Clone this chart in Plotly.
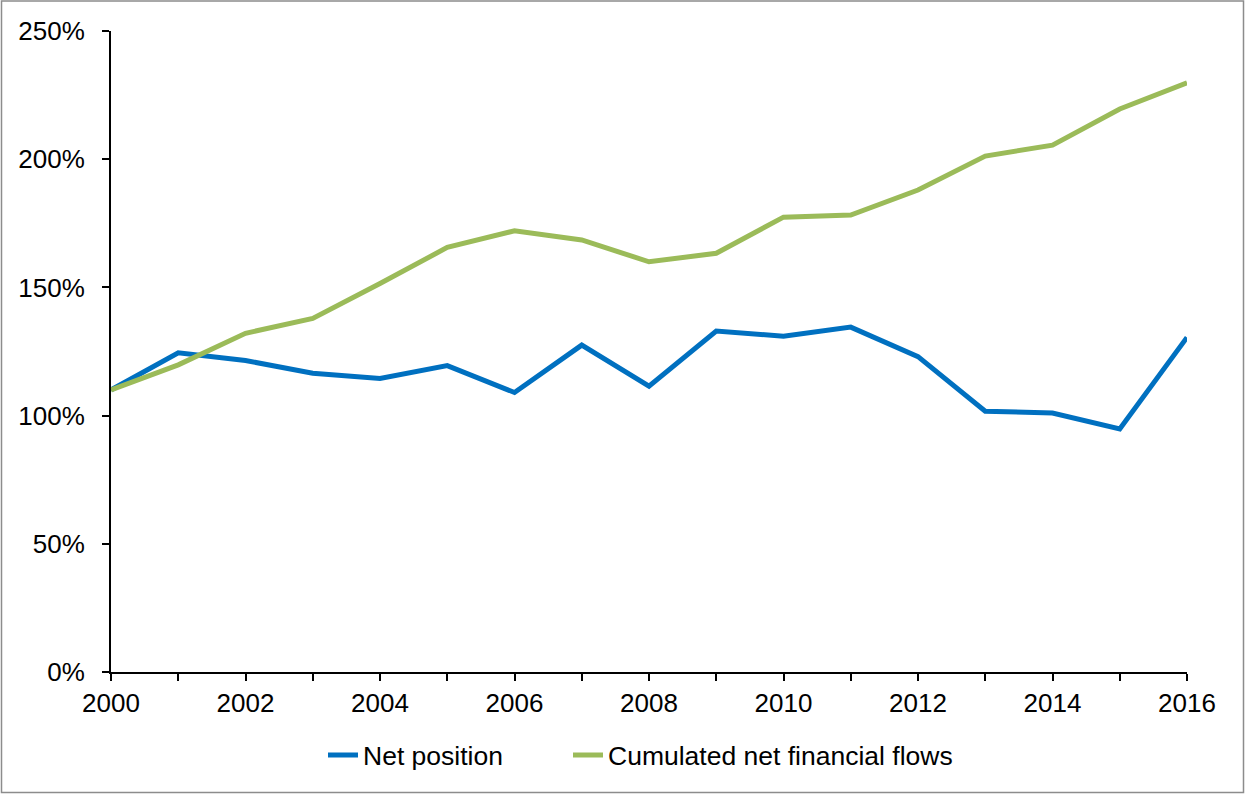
import plotly.graph_objects as go

years = list(range(2000, 2017))
net_position = [110, 124.5, 121.5, 116.5, 114.5, 119.5, 109, 127.5, 111.5,
                133, 131, 134.5, 123, 101.7, 101, 94.8, 130.5]
cumulated_flows = [110, 119.8, 132.1, 137.9, 151.5, 165.6, 172.1, 168.5, 160.0,
                   163.3, 177.4, 178.2, 188.0, 201.2, 205.5, 219.6, 229.8]
series_names = ["Net position", "Cumulated net financial flows"]
series_colors = ["#0070C0", "#9BBB59"]
y_ticks = [0, 50, 100, 150, 200, 250]
x_ticks = list(range(2000, 2017, 2))

W, H = 1245, 794
L, R, T, B = 111, 58, 31, 122
pw, ph = W - L - R, H - T - B

fig = go.Figure()
legend_refs = ["legend", "legend2"]
for name, vals, col, lg in zip(series_names, [net_position, cumulated_flows],
                               series_colors, legend_refs):
    fig.add_trace(go.Scatter(x=years, y=vals, mode="lines", name=name, legend=lg,
                             line=dict(color=col, width=5), hoverinfo="skip"))

font = dict(family="Liberation Sans, Arial, sans-serif", size=26, color="#000000")
leg_y = -0.0925
leg_common = dict(orientation="h", xanchor="left", y=leg_y, yanchor="top",
                  font=dict(size=26.5), bgcolor="rgba(0,0,0,0)")

fig.update_layout(
    width=W, height=H,
    margin=dict(l=L, r=R, t=T, b=B, pad=0),
    paper_bgcolor="white", plot_bgcolor="white",
    font=font,
    showlegend=True,
    legend=dict(x=(323 - L) / pw, **leg_common),
    legend2=dict(x=(568 - L) / pw, **leg_common),
    xaxis=dict(range=[2000, 2016], tickmode="array", tickvals=x_ticks,
               ticktext=[str(v) for v in x_ticks],
               showgrid=False, zeroline=False, showline=True,
               linecolor="#000000", linewidth=2, ticks="outside", ticklen=7,
               tickwidth=2, tickcolor="#000000",
               minor=dict(dtick=1, tick0=2000, ticks="outside", ticklen=7,
                          tickwidth=2, tickcolor="#000000", showgrid=False)),
    yaxis=dict(range=[0, 250], tickmode="array", tickvals=y_ticks,
               ticktext=[f"{v}%" for v in y_ticks],
               showgrid=False, zeroline=False, showline=True,
               linecolor="#000000", linewidth=2, ticks="outside", ticklen=7,
               tickwidth=2, tickcolor="#000000", ticklabelstandoff=12),
)

# outer chart border
fig.add_shape(type="rect", xref="paper", yref="paper",
              x0=(1.5 - L) / pw, x1=(W - 1.5 - L) / pw,
              y0=-(B - 1.5) / ph, y1=1 + (T - 1.0) / ph,
              line=dict(color="#8C8C8C", width=1.5), layer="below")

fig.write_html("out.html", config={"displayModeBar": False},
               post_script="document.body.style.margin='0';document.body.style.overflow='hidden';")
